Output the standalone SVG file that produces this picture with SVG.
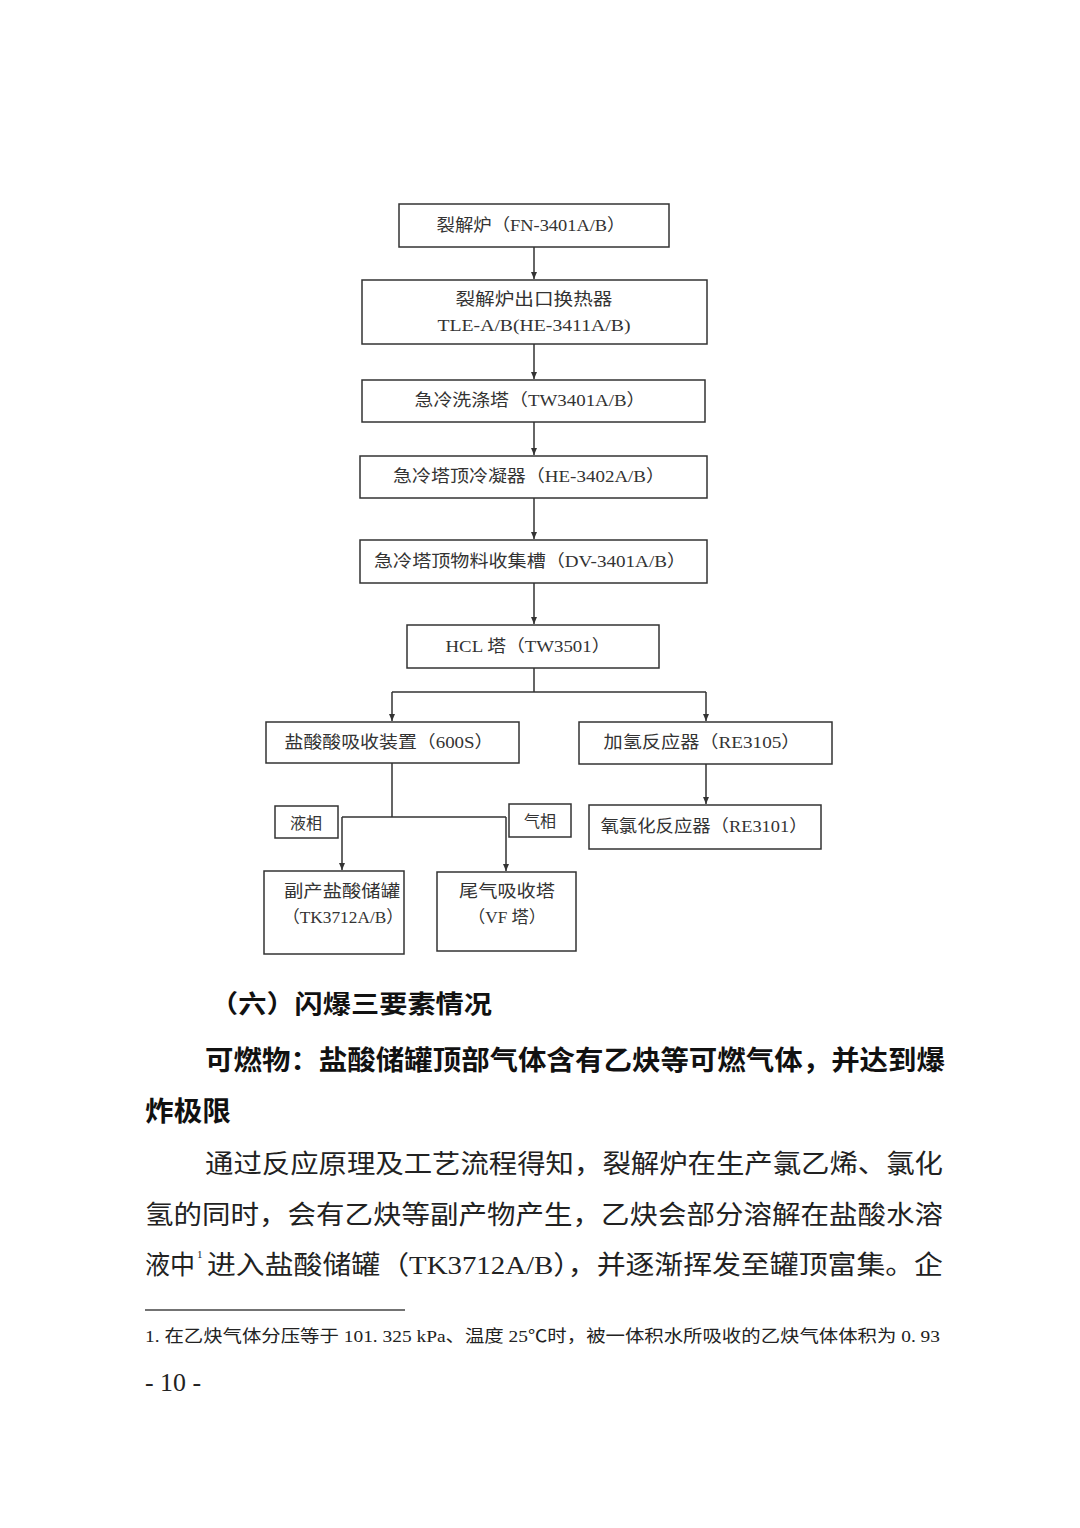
<svg xmlns="http://www.w3.org/2000/svg" width="1080" height="1528" viewBox="0 0 1080 1528">
<style>
.box{fill:#fff;stroke:#333;stroke-width:1.5}
.bt{font-family:"Liberation Serif","Noto Sans CJK SC",serif;font-size:17px;fill:#333;text-anchor:middle;dominant-baseline:central}
.lb{font-family:"Liberation Serif","Noto Sans CJK SC",serif;font-size:16px;fill:#333;text-anchor:middle;dominant-baseline:central}
.c{fill:none;stroke:#333;stroke-width:1.5}
.h{font-family:"Noto Sans CJK SC",sans-serif;font-weight:bold;fill:#111}
.p{font-family:"Liberation Serif","Noto Sans CJK SC",serif;font-size:26px;fill:#222}
.f{font-family:"Liberation Serif","Noto Sans CJK SC",serif;font-size:17px;fill:#222}
</style>
<defs>
<marker id="ar" markerWidth="8" markerHeight="8" refX="7" refY="4" orient="auto" markerUnits="userSpaceOnUse">
<path d="M0,1 L7,4 L0,7 Z" fill="#333"/>
</marker>
</defs>
<rect width="1080" height="1528" fill="#fff"/>

<g id="connectors">
<path class="c" d="M534,247 V279" marker-end="url(#ar)"/>
<path class="c" d="M534,344 V379" marker-end="url(#ar)"/>
<path class="c" d="M534,422 V455" marker-end="url(#ar)"/>
<path class="c" d="M534,498 V539" marker-end="url(#ar)"/>
<path class="c" d="M534,583 V624" marker-end="url(#ar)"/>
<path class="c" d="M534,668 V692 M392,692 H706"/>
<path class="c" d="M392,692 V721" marker-end="url(#ar)"/>
<path class="c" d="M706,692 V721" marker-end="url(#ar)"/>
<path class="c" d="M706,764 V804" marker-end="url(#ar)"/>
<path class="c" d="M392,763 V817 M342,817 H506"/>
<path class="c" d="M342,817 V870" marker-end="url(#ar)"/>
<path class="c" d="M506,817 V871" marker-end="url(#ar)"/>
</g>

<g id="n1"><rect class="box" x="399" y="204" width="270" height="43"/><text class="bt" x="531" y="225" textLength="189" lengthAdjust="spacingAndGlyphs">裂解炉（FN-3401A/B）</text></g>
<g id="n2"><rect class="box" x="362" y="280" width="345" height="64"/><text class="bt" x="534" y="299" textLength="157" lengthAdjust="spacingAndGlyphs">裂解炉出口换热器</text><text class="bt" x="534" y="325" textLength="193" lengthAdjust="spacingAndGlyphs">TLE-A/B(HE-3411A/B)</text></g>
<g id="n3"><rect class="box" x="362" y="380" width="343" height="42"/><text class="bt" x="530" y="400" textLength="231" lengthAdjust="spacingAndGlyphs">急冷洗涤塔（TW3401A/B）</text></g>
<g id="n4"><rect class="box" x="360" y="456" width="347" height="42"/><text class="bt" x="529" y="476" textLength="272" lengthAdjust="spacingAndGlyphs">急冷塔顶冷凝器（HE-3402A/B）</text></g>
<g id="n5"><rect class="box" x="360" y="540" width="347" height="43"/><text class="bt" x="530" y="561" textLength="312" lengthAdjust="spacingAndGlyphs">急冷塔顶物料收集槽（DV-3401A/B）</text></g>
<g id="n6"><rect class="box" x="407" y="625" width="252" height="43"/><text class="bt" x="528" y="646" textLength="165" lengthAdjust="spacingAndGlyphs">HCL 塔（TW3501）</text></g>
<g id="n7"><rect class="box" x="266" y="722" width="253" height="41"/><text class="bt" x="389" y="742" textLength="209" lengthAdjust="spacingAndGlyphs">盐酸酸吸收装置（600S）</text></g>
<g id="n8"><rect class="box" x="579" y="722" width="253" height="42"/><text class="bt" x="702" y="742" textLength="197" lengthAdjust="spacingAndGlyphs">加氢反应器（RE3105）</text></g>
<g id="n9"><rect class="box" x="589" y="805" width="232" height="44"/><text class="bt" x="704" y="826" textLength="207" lengthAdjust="spacingAndGlyphs">氧氯化反应器（RE3101）</text></g>
<g id="l1"><rect class="box" x="275" y="806" width="63" height="32"/><text class="lb" x="306" y="823">液相</text></g>
<g id="l2"><rect class="box" x="509" y="804" width="62" height="33"/><text class="lb" x="540" y="821">气相</text></g>
<g id="n10"><rect class="box" x="264" y="871" width="140" height="83"/><text class="bt" x="342" y="891" textLength="116" lengthAdjust="spacingAndGlyphs">副产盐酸储罐</text><text class="bt" x="343" y="917" textLength="121" lengthAdjust="spacingAndGlyphs">（TK3712A/B）</text></g>
<g id="n11"><rect class="box" x="437" y="872" width="139" height="79"/><text class="bt" x="507" y="891" textLength="96" lengthAdjust="spacingAndGlyphs">尾气吸收塔</text><text class="bt" x="507" y="917" textLength="78" lengthAdjust="spacingAndGlyphs">（VF 塔）</text></g>

<text class="h" x="210" y="1013" font-size="25" textLength="282" lengthAdjust="spacingAndGlyphs">（六）闪爆三要素情况</text>
<text class="h" x="205" y="1070" font-size="27" textLength="740" lengthAdjust="spacingAndGlyphs">可燃物：盐酸储罐顶部气体含有乙炔等可燃气体，并达到爆</text>
<text class="h" x="145" y="1121" font-size="27" textLength="86" lengthAdjust="spacingAndGlyphs">炸极限</text>
<text class="p" x="205" y="1173" textLength="738" lengthAdjust="spacingAndGlyphs">通过反应原理及工艺流程得知，裂解炉在生产氯乙烯、氯化</text>
<text class="p" x="145" y="1224" textLength="798" lengthAdjust="spacingAndGlyphs">氢的同时，会有乙炔等副产物产生，乙炔会部分溶解在盐酸水溶</text>
<text class="p" x="145" y="1274" textLength="50" lengthAdjust="spacingAndGlyphs">液中</text>
<text x="197" y="1258" font-family="Liberation Serif,serif" font-size="11" fill="#222">1</text>
<text class="p" x="207" y="1274" textLength="736" lengthAdjust="spacingAndGlyphs">进入盐酸储罐（TK3712A/B），并逐渐挥发至罐顶富集。企</text>
<line x1="145" y1="1310" x2="405" y2="1310" stroke="#444" stroke-width="1.5"/>
<text class="f" x="145" y="1342" textLength="795" lengthAdjust="spacingAndGlyphs">1. 在乙炔气体分压等于 101. 325 kPa、温度 25℃时，被一体积水所吸收的乙炔气体体积为 0. 93</text>
<text x="145" y="1391" font-family="Liberation Serif,serif" font-size="25" fill="#222" textLength="56" lengthAdjust="spacingAndGlyphs">- 10 -</text>
</svg>
